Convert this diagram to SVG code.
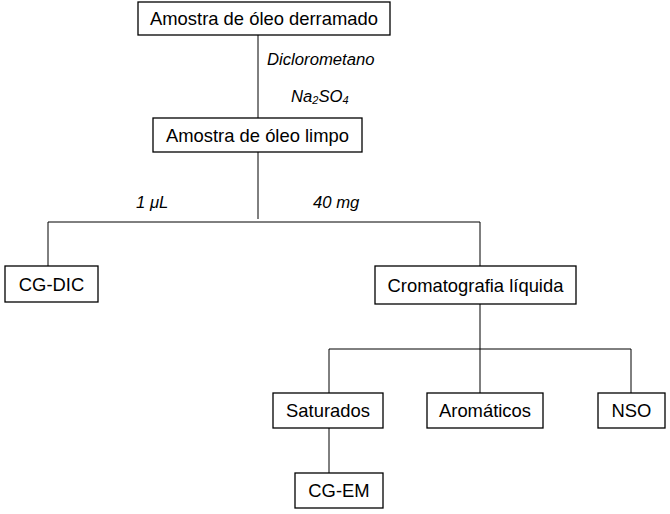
<svg xmlns="http://www.w3.org/2000/svg" width="670" height="514" viewBox="0 0 670 514">
<style>
.box{fill:#fff;stroke:#000;stroke-width:1.3}
.t{font-family:"Liberation Sans",Arial,sans-serif;font-size:18.4px;fill:#000;text-anchor:middle}
.l{font-family:"Liberation Sans",Arial,sans-serif;font-size:16.7px;font-style:italic;fill:#000}
.c{fill:none;stroke:#000;stroke-width:1}
</style>
<rect width="670" height="514" fill="#fff"/>
<g id="connectors">
<path class="c" d="M258 35V118"/>
<path class="c" d="M258 152V219"/>
<path class="c" d="M48 266V222H480V266"/>
<path class="c" d="M480 304V349"/>
<path class="c" d="M329 393V349H631V393"/>
<path class="c" d="M480 349V393"/>
<path class="c" d="M329 428V473"/>
</g>
<g id="labels">
<text class="l" x="267" y="65">Diclorometano</text>
<text class="l" x="291" y="102">Na<tspan font-size="11" dy="2">2</tspan><tspan dy="-2">SO</tspan><tspan font-size="11" dy="2">4</tspan></text>
<text class="l" x="136" y="208">1 μL</text>
<text class="l" x="313" y="208">40 mg</text>
</g>
<g id="n1"><rect class="box" x="138" y="2" width="252" height="33"/><text class="t" x="264" y="25">Amostra de óleo derramado</text></g>
<g id="n2"><rect class="box" x="153" y="118" width="209" height="34"/><text class="t" x="257.5" y="141.5">Amostra de óleo limpo</text></g>
<g id="n3"><rect class="box" x="5" y="266" width="93" height="36"/><text class="t" x="51.5" y="290.5">CG-DIC</text></g>
<g id="n4"><rect class="box" x="375" y="266" width="201" height="38"/><text class="t" x="475.5" y="291.5">Cromatografia líquida</text></g>
<g id="n5"><rect class="box" x="273" y="393" width="110" height="35"/><text class="t" x="328" y="416.5">Saturados</text></g>
<g id="n6"><rect class="box" x="427" y="393" width="116" height="35"/><text class="t" x="485" y="416.5">Aromáticos</text></g>
<g id="n7"><rect class="box" x="598" y="393" width="67" height="35"/><text class="t" x="631.5" y="416.5">NSO</text></g>
<g id="n8"><rect class="box" x="295" y="473" width="88" height="35"/><text class="t" x="339" y="496.5">CG-EM</text></g>
</svg>
